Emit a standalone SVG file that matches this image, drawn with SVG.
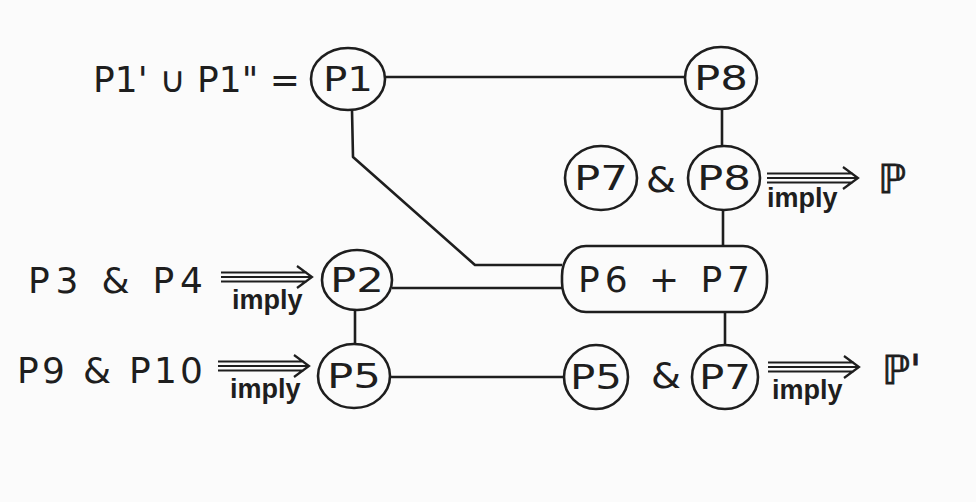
<svg xmlns="http://www.w3.org/2000/svg" xmlns:xlink="http://www.w3.org/1999/xlink" width="976" height="502" viewBox="0 0 976 502">
<style>
.n{fill:none;stroke:#1e1e1e;stroke-width:2.6}
.c{fill:none;stroke:#1e1e1e;stroke-width:2.6;stroke-linejoin:round}
.t{font-family:"DejaVu Sans",Arial,sans-serif;font-size:36px;fill:#1e1e1e}
.nl{font-family:"DejaVu Sans",Arial,sans-serif;font-size:34px;fill:#1e1e1e;text-anchor:middle}
.im{font-family:"Liberation Sans",Arial,sans-serif;font-size:27px;font-weight:bold;fill:#1e1e1e}
.bb{font-family:"DejaVu Sans",sans-serif;font-size:40px;fill:#1e1e1e;stroke:#1e1e1e;stroke-width:0.8}
</style>
<defs>
<g id="arr"><path d="M0,-4.5 H86 M0,0 H89 M0,4.5 H86 M76,-11 L91,0 L76,11" fill="none" stroke="#1e1e1e" stroke-width="2.2"/></g>
</defs>
<rect width="976" height="502" fill="#fbfbfb"/>
<g id="connectors">
<path class="c" d="M385,77 H685"/>
<path class="c" d="M722,109 V147"/>
<path class="c" d="M723,209 V246"/>
<path class="c" d="M725,312 V346"/>
<path class="c" d="M352,110 L353,157 L475,265 H562"/>
<path class="c" d="M392,288 H562"/>
<path class="c" d="M355,310 V344"/>
<path class="c" d="M390,377 H564"/>
</g>
<g id="label-top"><text class="t" x="93" y="92" font-size="38" textLength="207" lengthAdjust="spacing">P1' ∪ P1" =</text></g>
<g id="P1"><ellipse class="n" cx="348" cy="79" rx="37" ry="31"/><text class="nl" x="348" y="91" textLength="50" lengthAdjust="spacingAndGlyphs">P1</text></g>
<g id="P8a"><ellipse class="n" cx="721" cy="78" rx="36" ry="31"/><text class="nl" x="721" y="90" textLength="54" lengthAdjust="spacingAndGlyphs">P8</text></g>
<g id="P7a"><ellipse class="n" cx="601" cy="178" rx="36" ry="32"/><text class="nl" x="601" y="190" textLength="54" lengthAdjust="spacingAndGlyphs">P7</text></g>
<text class="t" x="646" y="192" textLength="30" lengthAdjust="spacingAndGlyphs">&amp;</text>
<g id="P8b"><ellipse class="n" cx="724" cy="178" rx="36" ry="32"/><text class="nl" x="724" y="190" textLength="54" lengthAdjust="spacingAndGlyphs">P8</text></g>
<g id="imp1"><use xlink:href="#arr" x="767" y="178"/><text class="im" x="767" y="207">imply</text></g>
<g id="Pout1"><text class="bb" x="878" y="193">ℙ</text></g>
<g id="P3P4"><text class="t" x="28" y="293" textLength="175" lengthAdjust="spacing">P3 &amp; P4</text></g>
<g id="imp2"><use xlink:href="#arr" x="221" y="277"/><text class="im" x="232" y="309">imply</text></g>
<g id="P2"><ellipse class="n" cx="357" cy="280" rx="35" ry="30"/><text class="nl" x="357" y="292" textLength="54" lengthAdjust="spacingAndGlyphs">P2</text></g>
<g id="P6P7"><rect class="n" x="562" y="246" width="205" height="66" rx="24" ry="30"/><text class="t" x="578" y="292" textLength="172" lengthAdjust="spacing">P6 + P7</text></g>
<g id="P9P10"><text class="t" x="17" y="383" textLength="186" lengthAdjust="spacing">P9 &amp; P10</text></g>
<g id="imp3"><use xlink:href="#arr" x="218" y="366"/><text class="im" x="230" y="398">imply</text></g>
<g id="P5a"><ellipse class="n" cx="354" cy="376" rx="36" ry="32"/><text class="nl" x="354" y="388" textLength="54" lengthAdjust="spacingAndGlyphs">P5</text></g>
<g id="P5b"><ellipse class="n" cx="596" cy="377" rx="32" ry="32"/><text class="nl" x="596" y="389" textLength="52" lengthAdjust="spacingAndGlyphs">P5</text></g>
<text class="t" x="651" y="388" textLength="30" lengthAdjust="spacingAndGlyphs">&amp;</text>
<g id="P7b"><ellipse class="n" cx="725" cy="377" rx="33" ry="32"/><text class="nl" x="725" y="389" textLength="52" lengthAdjust="spacingAndGlyphs">P7</text></g>
<g id="imp4"><use xlink:href="#arr" x="768" y="367"/><text class="im" x="772" y="399">imply</text></g>
<g id="Pout2"><text class="bb" x="882" y="384">ℙ'</text></g>
</svg>
